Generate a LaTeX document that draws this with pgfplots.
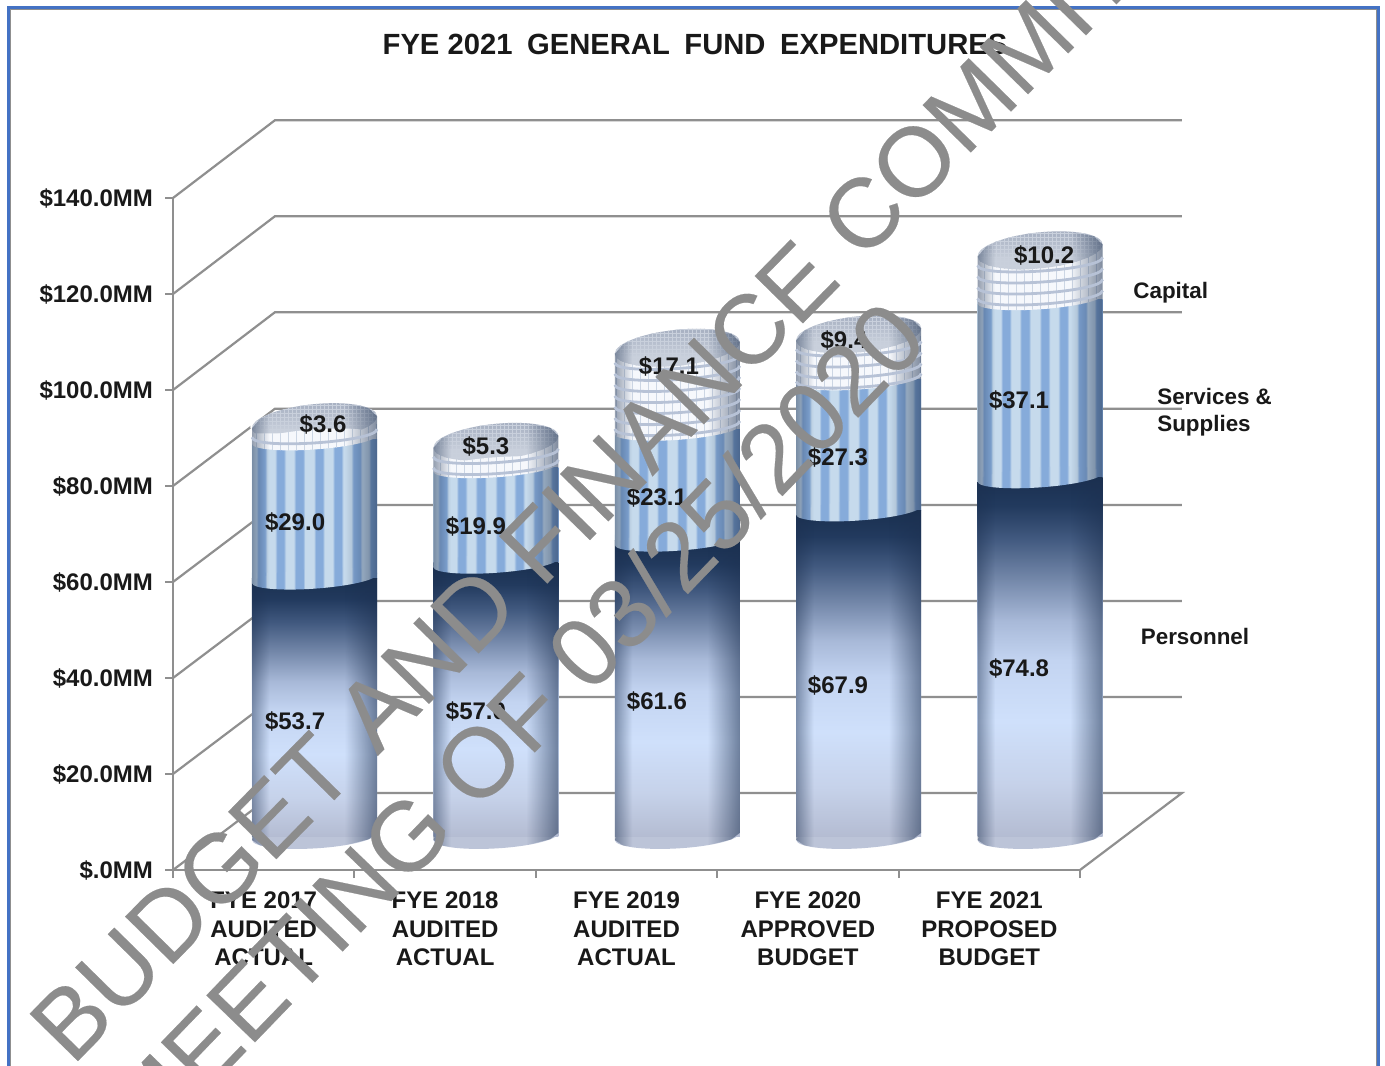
\documentclass[border=0pt]{standalone}
\usepackage{pgfplots}
\pgfplotsset{compat=1.18}
\usepackage{fontspec}
\setmainfont{Liberation Sans}
\newfontfamily\wmfont[FakeBold=0.2]{Liberation Sans}
\usetikzlibrary{patterns,fadings}

\definecolor{gridgrey}{HTML}{8F8F8F}
\definecolor{frameblue}{HTML}{4472C4}
\definecolor{wmgrey}{HTML}{8C8C8C}
\definecolor{stblue}{HTML}{86ABDA}
\definecolor{stpale}{HTML}{C6DAEC}
\definecolor{capfill}{HTML}{F6F8FC}
\definecolor{capline}{HTML}{CCD6E4}
\definecolor{capring}{HTML}{B7C2D6}
\definecolor{capgridc}{HTML}{C9D0DC}
\definecolor{edgedark}{HTML}{1C3050}
\definecolor{pa}{HTML}{B4BCD2}
\definecolor{pb}{HTML}{C6D2EA}
\definecolor{pc}{HTML}{CFE0FB}
\definecolor{pd}{HTML}{C3D4F1}
\definecolor{pe}{HTML}{A8B9D8}
\definecolor{pf}{HTML}{7286A8}
\definecolor{pg}{HTML}{41597F}
\definecolor{ph}{HTML}{223A5E}
\definecolor{pi}{HTML}{1A3050}

% 1 px of the reference = 0.5pt here
\pgfdeclareverticalshading{persgrad}{100bp}{
 color(0bp)=(pa); color(25bp)=(pa); color(32.5bp)=(pb); color(41bp)=(pc); color(49.5bp)=(pd);
 color(55bp)=(pe); color(61bp)=(pf); color(66.5bp)=(pg); color(71bp)=(ph); color(75bp)=(pi); color(100bp)=(pi)}
\pgfdeclarehorizontalshading{stripes}{100bp}{
 color(0bp)=(stpale); color(25bp)=(stpale); color(26.7bp)=(stpale);
 color(27.5bp)=(stblue); color(30.2bp)=(stblue); color(31bp)=(stpale); color(34.2bp)=(stpale);
 color(35bp)=(stblue); color(37.7bp)=(stblue); color(38.5bp)=(stpale); color(41.7bp)=(stpale);
 color(42.5bp)=(stblue); color(45.4bp)=(stblue); color(46.2bp)=(stpale); color(49.7bp)=(stpale);
 color(50.5bp)=(stblue); color(53.2bp)=(stblue); color(54bp)=(stpale); color(57.2bp)=(stpale);
 color(58bp)=(stblue); color(60.7bp)=(stblue); color(61.5bp)=(stpale); color(64.7bp)=(stpale);
 color(65.5bp)=(stblue); color(68.2bp)=(stblue); color(69bp)=(stpale); color(71.7bp)=(stpale);
 color(72.5bp)=(stblue); color(75bp)=(stblue); color(100bp)=(stblue)}
\definecolor{basefill}{HTML}{BCC4D8}
\definecolor{captop}{HTML}{A9B2C3}
\definecolor{caplow}{HTML}{C8CFDB}
\pgfdeclareverticalshading{capgrad}{100bp}{
 color(0bp)=(caplow); color(25bp)=(caplow); color(40bp)=(caplow); color(70bp)=(captop); color(75bp)=(captop); color(100bp)=(captop)}

\pgfdeclarehorizontalshading{edgesh}{100bp}{
 color(0bp)=(white!45!black); color(25bp)=(white!45!black); color(32bp)=(black);
 color(62bp)=(black); color(75bp)=(white!55!black); color(100bp)=(white!55!black)}
\pgfdeclarefading{cyledge}{\pgfuseshading{edgesh}}

\pgfdeclarepatternformonly{capv}{\pgfqpoint{-1pt}{-1pt}}{\pgfqpoint{5pt}{5pt}}{\pgfqpoint{4pt}{4pt}}{
 \pgfsetlinewidth{.5pt}\pgfpathmoveto{\pgfqpoint{0pt}{-1pt}}\pgfpathlineto{\pgfqpoint{0pt}{5pt}}\pgfusepath{stroke}}
\pgfdeclarepatternformonly{capgrid}{\pgfqpoint{-.5pt}{-.5pt}}{\pgfqpoint{2.5pt}{2.5pt}}{\pgfqpoint{2pt}{2pt}}{
 \pgfsetlinewidth{.3pt}
 \pgfpathmoveto{\pgfqpoint{0pt}{-.5pt}}\pgfpathlineto{\pgfqpoint{0pt}{2.5pt}}
 \pgfpathmoveto{\pgfqpoint{-.5pt}{0pt}}\pgfpathlineto{\pgfqpoint{2.5pt}{0pt}}\pgfusepath{stroke}}

\newcommand\ellBase{\pgfpathellipse{\pgfpointorigin}{\pgfqpoint{31.25pt}{1.8pt}}{\pgfqpoint{-.2pt}{6pt}}}
\newcommand\ellMid{\pgfpathellipse{\pgfpointorigin}{\pgfqpoint{31.25pt}{2.2pt}}{\pgfqpoint{-.2pt}{5pt}}}
\newcommand\ellTop{\pgfpathellipse{\pgfpointorigin}{\pgfqpoint{31.25pt}{3pt}}{\pgfqpoint{-.2pt}{9pt}}}
% wedge above the tilted boundary hides the corner of the bar underneath
\newcommand\patch{\pgfpathmoveto{\pgfqpoint{-31.25pt}{-2.2pt}}\pgfpathlineto{\pgfqpoint{-31.25pt}{3pt}}
 \pgfpathlineto{\pgfqpoint{31.25pt}{3pt}}\pgfpathlineto{\pgfqpoint{31.25pt}{2.2pt}}\pgfpathclose}
\pgfdeclareplotmark{baseEll}{\ellBase\pgfsetfillcolor{basefill}\pgfusepath{fill}}
\pgfdeclareplotmark{stripEll}{\patch\pgfshadepath{stripes}{0}\pgfusepath{discard}
 \ellMid\pgfshadepath{stripes}{0}\pgfusepath{discard}}
\pgfdeclareplotmark{capEll}{\patch\pgfsetfillcolor{capfill}\pgfusepath{fill}
 \patch\pgfsetfillpattern{capv}{capline}\pgfusepath{fill}
 \ellMid\pgfsetfillcolor{capfill}\pgfusepath{fill}
 \ellMid\pgfsetfillpattern{capv}{capline}\pgfusepath{fill}}
\pgfdeclareplotmark{capTop}{%
 \pgfpathmoveto{\pgfqpoint{-32pt}{.3pt}}\pgfpathlineto{\pgfqpoint{-32pt}{-3pt}}\pgfpathlineto{\pgfqpoint{-20pt}{.3pt}}\pgfpathclose
 \pgfsetfillcolor{white}\pgfusepath{fill}
 \pgfpathrectangle{\pgfqpoint{10pt}{-1pt}}{\pgfqpoint{21.25pt}{4pt}}\pgfsetfillcolor{capfill}\pgfusepath{fill}
 \ellTop\pgfshadepath{capgrad}{0}\pgfusepath{discard}
 \ellTop\pgfsetfillpattern{capgrid}{capgridc}\pgfusepath{fill}}
\pgfdeclareplotmark{ring}{\pgfsetlinewidth{1.4pt}\pgfsetstrokecolor{capring}
 \pgfpathmoveto{\pgfqpoint{-31.25pt}{-2pt}}
 \pgfpathcurveto{\pgfqpoint{-31pt}{-8.5pt}}{\pgfqpoint{31pt}{-4.5pt}}{\pgfqpoint{31.25pt}{2pt}}\pgfusepath{stroke}}

\pgfplotsset{
 frame/.style={scale only axis,width=453.5pt,height=336pt,at={(86.5pt,97.5pt)},anchor=south west,
  xmin=0,xmax=5,ymin=0,ymax=140,clip=false},
 gl/.style={gridgrey,line width=1.1pt,no marks},
}

% x, personnel, services, capital, ring heights, stack top
\newcommand\cylinder[6]{%
 \begin{axis}[frame,hide axis]
 \addplot[only marks,mark=baseEll] coordinates {(#1,7)};
 \end{axis}
 \begin{axis}[frame,hide axis,ybar stacked,bar width=62.5pt]
 \addplot[draw=none,fill=none] coordinates {(#1,7)};
 \addplot[draw=none,shade,shading=persgrad,mark=stripEll] coordinates {(#1,#2)};
 \addplot[draw=none,shade,shading=stripes,mark=capEll] coordinates {(#1,#3)};
 \addplot[draw=none,preaction={fill=capfill},pattern=capv,pattern color=capline,mark=capTop] coordinates {(#1,#4)};
 \end{axis}
 \begin{axis}[frame,hide axis]
 \addplot[only marks,mark=ring] coordinates {#5};
 % outline of the whole cylinder, darkened towards its sides
 \addplot[draw=none,fill=edgedark,path fading=cyledge,no marks] coordinates {
  ({#1-.3445},6.25) ({#1-.298},5.1) ({#1-.172},4.46) ({#1},4.5) ({#1+.172},5.21) ({#1+.298},6.4) ({#1+.3445},7.75)
  ({#1+.3445},{#6+1.25}) ({#1+.298},{#6+2.96}) ({#1+.172},{#6+3.87}) ({#1},{#6+3.75})
  ({#1-.172},{#6+2.62}) ({#1-.298},{#6+.79}) ({#1-.3445},{#6-1.25})} --cycle;
 \end{axis}}

\begin{document}
\begin{tikzpicture}[x=1pt,y=1pt]
\useasboundingbox (0,0) rectangle (692.5,532.5);
\clip (0,0) rectangle (692.5,532.5);
\fill[white] (0,0) rectangle (692.5,532.5);
\draw[gridgrey,line width=.5pt] (5.2,-10) rectangle (688,527.5);
\draw[frameblue,line width=1.5pt] (4.2,-10) rectangle (689.2,528.7);

\node[font=\bfseries\fontsize{14.6}{16}\selectfont,text=black!90] at (347.5,510.5)
 {FYE 2021\hspace{.5em}GENERAL\hspace{.5em}FUND\hspace{.5em}EXPENDITURES};

\begin{axis}[frame,axis lines*=left,axis line style={gridgrey,line width=1.1pt,-},
 tick style={gridgrey,line width=1pt},tick align=outside,
 xtick={.5,1.5,2.5,3.5,4.5},major x tick style={draw=none},
 xticklabels={{FYE 2017\\AUDITED\\ACTUAL},{FYE 2018\\AUDITED\\ACTUAL},{FYE 2019\\AUDITED\\ACTUAL},{FYE 2020\\APPROVED\\BUDGET},{FYE 2021\\PROPOSED\\BUDGET}},
 xticklabel style={align=center,font=\bfseries\fontsize{12}{14.2}\selectfont,text=black!90,yshift=-3.5pt},
 minor xtick={0,1,2,3,4,5},minor tick length=4pt,
 ytick={0,20,40,60,80,100,120,140},major tick length=4pt,
 yticklabels={\$.0MM,\$20.0MM,\$40.0MM,\$60.0MM,\$80.0MM,\$100.0MM,\$120.0MM,\$140.0MM},
 yticklabel style={font=\bfseries\fontsize{12}{14}\selectfont,text=black!90,xshift=-2.5pt,yshift=-.3pt}]
\addplot[gl] coordinates {(0,0) (.562,16.04) (5.562,16.04) (5,0)};
\addplot[gl] coordinates {(0,20) (.562,36.04) (5.562,36.04)};
\addplot[gl] coordinates {(0,40) (.562,56.04) (5.562,56.04)};
\addplot[gl] coordinates {(0,60) (.562,76.04) (5.562,76.04)};
\addplot[gl] coordinates {(0,80) (.562,96.1) (5.562,96.1)};
\addplot[gl] coordinates {(0,100) (.562,116.2) (5.562,116.2)};
\addplot[gl] coordinates {(0,120) (.562,136.2) (5.562,136.2)};
\addplot[gl] coordinates {(0,140) (.562,156.2) (5.562,156.2)};
\end{axis}

\cylinder{0.78}{53.7}{29.0}{3.6}{(0.78,91)}{93.3}
\cylinder{1.78}{57.0}{19.9}{5.3}{(1.78,86.9)(1.78,84.6)}{89.2}
\cylinder{2.78}{61.6}{23.1}{17.1}{(2.78,106.5)(2.78,104.2)(2.78,101.9)(2.78,99.6)(2.78,97.3)(2.78,95)(2.78,92.7)}{108.8}
\cylinder{3.78}{67.9}{27.3}{9.4}{(3.78,109.3)(3.78,107)(3.78,104.7)(3.78,102.6)}{111.6}
\cylinder{4.78}{74.8}{37.1}{10.2}{(4.78,126.8)(4.78,124.5)(4.78,122.2)(4.78,119.9)}{129.1}

\begin{axis}[frame,hide axis]
\addplot[only marks,mark=none,point meta=explicit symbolic,nodes near coords,
 nodes near coords style={anchor=center,font=\bfseries\fontsize{12}{14}\selectfont,text=black!90}]
 coordinates {
 (0.673,31.0)[\$53.7] (0.673,72.5)[\$29.0] (0.827,92.9)[\$3.6]
 (1.670,33.1)[\$57.0] (1.670,71.5)[\$19.9] (1.725,88.3)[\$5.3]
 (2.668,35.2)[\$61.6] (2.668,77.7)[\$23.1] (2.734,104.8)[\$17.1]
 (3.666,38.5)[\$67.9] (3.666,86.0)[\$27.3] (3.699,110.4)[\$9.4]
 (4.664,41.9)[\$74.8] (4.664,97.9)[\$37.1] (4.802,128.1)[\$10.2]};
\node[font=\bfseries\fontsize{11.2}{13.5}\selectfont,text=black!90] at (axis cs:5.50,120.2) {Capital};
\node[font=\bfseries\fontsize{11.2}{13.5}\selectfont,text=black!90,anchor=west,align=left,inner sep=0pt] at (axis cs:5.424,95.4) {Services \&\\Supplies};
\node[font=\bfseries\fontsize{11.2}{13.5}\selectfont,text=black!90] at (axis cs:5.634,48.6) {Personnel};
\end{axis}

\node[rotate=45.5,anchor=base west,inner sep=0pt,text=wmgrey,font=\wmfont\fontsize{49}{51}\selectfont] at (36,-1) {BUDGET AND FINANCE COMMITTEE};
\node[rotate=46,anchor=base west,inner sep=0pt,text=wmgrey,font=\wmfont\fontsize{49}{51}\selectfont] at (73.5,-44.5) {MEETING OF 03/25/2020};
\end{tikzpicture}
\end{document}
